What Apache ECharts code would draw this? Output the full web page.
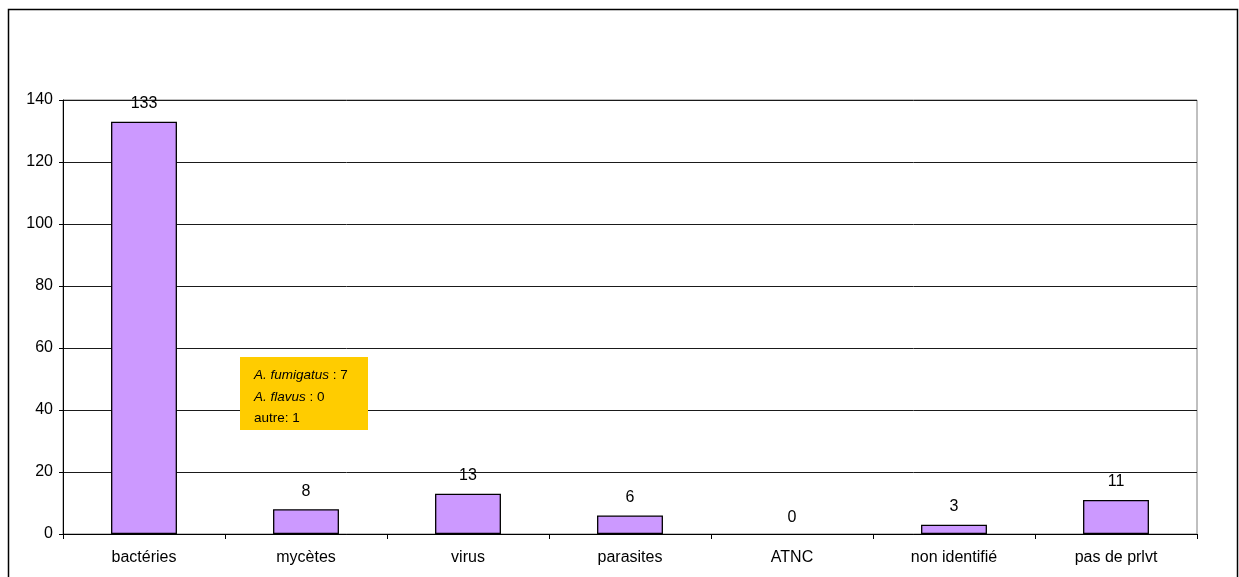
<!DOCTYPE html>
<html><head><meta charset="utf-8">
<script src="https://cdn.jsdelivr.net/npm/echarts@6/dist/echarts.min.js"></script>
<style>html,body{margin:0;padding:0;background:#fff}#c{width:1239px;height:577px}</style>
</head><body><div id="c"></div>
<script>
var categories = ['bactéries','mycètes','virus','parasites','ATNC','non identifié','pas de prlvt'];
var values = [133, 8, 13, 6, 0, 3, 11];
var yTicks = [0,20,40,60,80,100,120,140];

var chart = echarts.init(document.getElementById('c'));
var font = 'Liberation Sans, Arial, sans-serif';
chart.setOption({
  animation:false,
  backgroundColor:'#fff',
  grid:{left:63,right:42,top:100,bottom:43,show:true,borderColor:'#808080',borderWidth:1,backgroundColor:'transparent'},
  xAxis:{type:'category',data:categories,
    axisLine:{lineStyle:{color:'#000',width:1}},
    axisTick:{show:true,alignWithLabel:false,length:5,lineStyle:{color:'#000'}},
    axisLabel:{color:'#000',fontFamily:font,fontSize:16,margin:16}},
  yAxis:{type:'value',min:yTicks[0],max:yTicks[yTicks.length-1],interval:yTicks[1]-yTicks[0],
    axisLine:{show:true,lineStyle:{color:'#000'}},
    axisTick:{show:true,length:4,lineStyle:{color:'#000'}},
    splitLine:{lineStyle:{color:'#1a1a1a',width:1}},
    axisLabel:{color:'#000',fontFamily:font,fontSize:16,margin:10}},
  series:[{type:'bar',barWidth:'40.7%',
    data:values.map(function(v,i){
      var d={value:v};
      if(v===0){d.label={offset:[0,2]};d.itemStyle={borderWidth:0};}
      return d;}),
    itemStyle:{color:'#CC99FF',borderColor:'#000',borderWidth:1.3},
    label:{show:true,position:'top',distance:10,color:'#000',fontFamily:font,fontSize:16}
  }],
  graphic:[
    {type:'rect',shape:{x:8.5,y:9.5,width:1229,height:600},style:{fill:'none',stroke:'#000',lineWidth:1.5},silent:true},
    {type:'rect',shape:{x:240,y:357,width:128,height:73},style:{fill:'#FFCC00',stroke:'none'},z:10},
    {type:'text',x:254,y:364.5,z:11,style:{
      text:'{i|A. fumigatus} : 7\n{i|A. flavus} : 0\nautre: 1',
      font:'13.5px '+font,fill:'#000',lineHeight:21.7,
      rich:{i:{fontStyle:'italic',fontFamily:font,fontSize:13.5,fill:'#000',lineHeight:21.7}}}}
  ]
});
</script></body></html>
